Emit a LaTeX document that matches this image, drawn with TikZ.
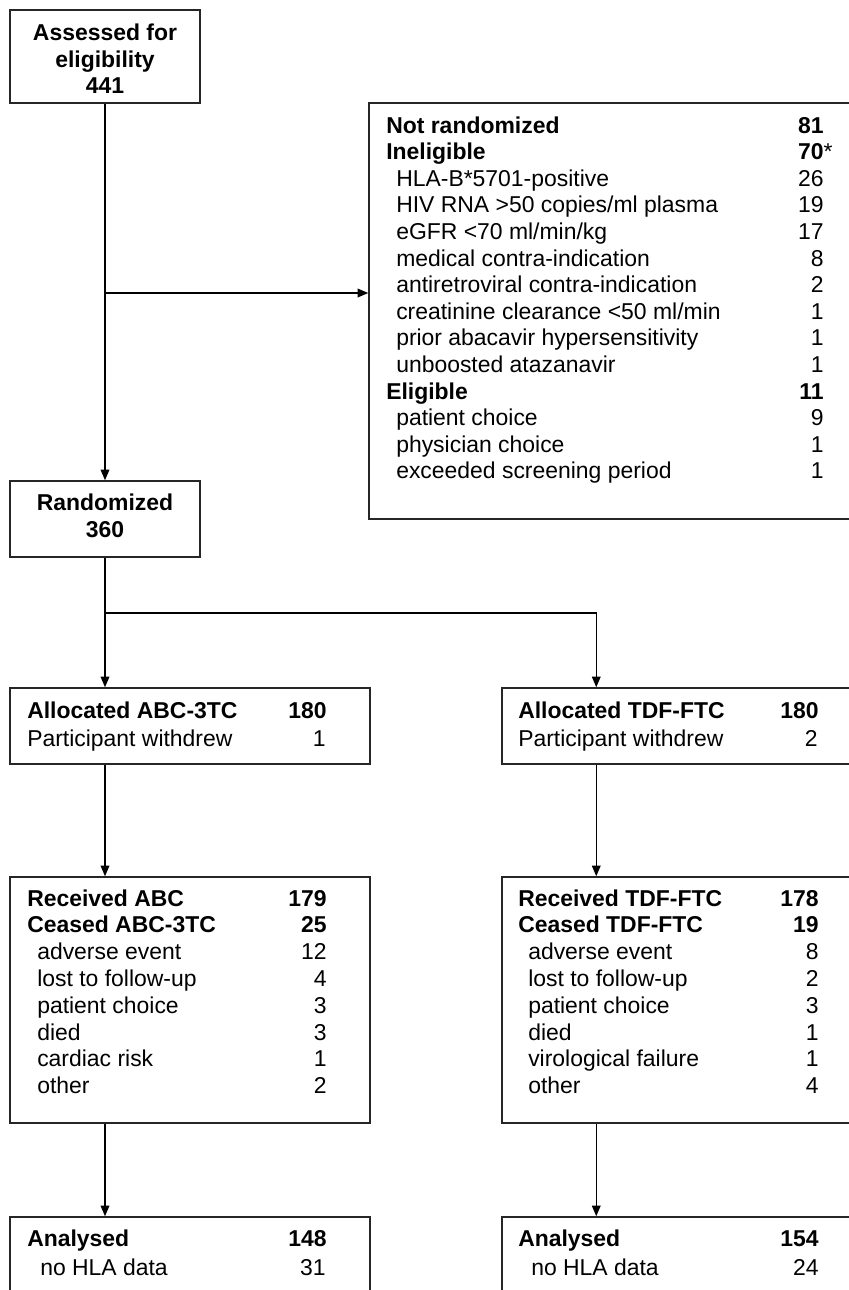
\documentclass[tikz,border=0pt]{standalone}
\usepackage{fontspec}
\setmainfont{Liberation Sans}
\usetikzlibrary{arrows.meta, fit, calc}
\newcommand{\flowfont}{\fontsize{17.2pt}{19.9pt}\selectfont}

\begin{document}
\begin{tikzpicture}[
        x=0.75pt, y=-0.75pt,
        every node/.style={font=\flowfont},
        box/.style={draw=black!85, line width=1.1pt, inner sep=0pt, fit={#1}},
        arr/.style={line width=1pt, -{Triangle[length=8pt, width=6.5pt]}},
        title/.style={align=center, inner sep=0pt, font=\flowfont\bfseries},
        lab/.style={anchor=base west, inner sep=0pt},
        num/.style={anchor=base east, inner sep=0pt},
        lab-head/.style={lab, font=\flowfont\bfseries},
        lab-item/.style={lab, xshift=7.5pt},
        lab-plain/.style={lab},
        num-head/.style={num, font=\flowfont\bfseries},
        num-item/.style={num},
        num-plain/.style={num}
    ]

    \useasboundingbox (0,0) rectangle (849,1290);
    \clip (0,0) rectangle (849,1290);

    % boxes
    \node[box={(10,10) (200,103)}] (assess) {};
    \node[box={(369,103) (870,519)}] (notrand) {};
    \node[box={(10,481) (200,557)}] (rand) {};
    \node[box={(10,688) (370,764)}] (allocA) {};
    \node[box={(502,688) (870,764)}] (allocB) {};
    \node[box={(10,877) (370,1123)}] (recA) {};
    \node[box={(502,877) (870,1123)}] (recB) {};
    \node[box={(10,1217) (370,1330)}] (anaA) {};
    \node[box={(502,1217) (870,1330)}] (anaB) {};

    \node[title] (assess-t) at (105,59) {Assessed for\\eligibility\\441};
    \node[title] (rand-t) at (105,516) {Randomized\\360};

    % connectors
    \coordinate (split1) at (105,293);
    \coordinate (split2) at (105,613);
    \coordinate (inB) at ($(allocB.north west)+(95,0)$);
    \draw[arr] (assess) -- (rand);
    \draw[arr] (split1) -- (split1 -| notrand.west);
    \draw[arr] (rand) -- (rand |- allocA.north);
    \draw[arr] (split2) -| (inB);
    \draw[arr] (allocA.south -| rand) -- (recA.north -| rand);
    \draw[arr] (allocB.south -| inB) -- (recB.north -| inB);
    \draw[arr] (recA.south -| rand) -- (anaA.north -| rand);
    \draw[arr] (recB.south -| inB) -- (anaB.north -| inB);

    % not randomized
    \foreach \lab/\num/\kind [count=\i from 0] in {
            {Not randomized}/81/head,
            {Ineligible}/{70\rlap{\normalfont*}}/head,
            {HLA-B*5701-positive}/26/item,
            {HIV RNA >50 copies/ml plasma}/19/item,
            {eGFR <70 ml/min/kg}/17/item,
            {medical contra-indication}/8/item,
            {antiretroviral contra-indication}/2/item,
            {creatinine clearance <50 ml/min}/1/item,
            {prior abacavir hypersensitivity}/1/item,
            {unboosted atazanavir}/1/item,
            {Eligible}/11/head,
            {patient choice}/9/item,
            {physician choice}/1/item,
            {exceeded screening period}/1/item}{
        \node[lab-\kind] (nr-l\i) at (386,133+26.6*\i) {\lab};
        \node[num-\kind] (nr-n\i) at (824,133+26.6*\i) {\num};
    }

    % allocation
    \node[lab-head] (allocA-l0) at (27,718) {Allocated ABC-3TC};
    \node[num-head] (allocA-n0) at (327,718) {180};
    \node[lab-plain] (allocA-l1) at (27,746) {Participant withdrew};
    \node[num-plain] (allocA-n1) at (326,746) {1};
    \node[lab-head] (allocB-l0) at (518,718) {Allocated TDF-FTC};
    \node[num-head] (allocB-n0) at (819,718) {180};
    \node[lab-plain] (allocB-l1) at (518,746) {Participant withdrew};
    \node[num-plain] (allocB-n1) at (818,746) {2};

    % follow-up
    \foreach \lab/\num/\kind [count=\i from 0] in {
            {Received ABC}/179/head,
            {Ceased ABC-3TC}/25/head,
            {adverse event}/12/item,
            {lost to follow-up}/4/item,
            {patient choice}/3/item,
            {died}/3/item,
            {cardiac risk}/1/item,
            {other}/2/item}{
        \node[lab-\kind] (recA-l\i) at (27,906+26.8*\i) {\lab};
        \node[num-\kind] (recA-n\i) at (327,906+26.8*\i) {\num};
    }
    \foreach \lab/\num/\kind [count=\i from 0] in {
            {Received TDF-FTC}/178/head,
            {Ceased TDF-FTC}/19/head,
            {adverse event}/8/item,
            {lost to follow-up}/2/item,
            {patient choice}/3/item,
            {died}/1/item,
            {virological failure}/1/item,
            {other}/4/item}{
        \node[lab-\kind] (recB-l\i) at (518,906+26.8*\i) {\lab};
        \node[num-\kind] (recB-n\i) at (819,906+26.8*\i) {\num};
    }

    % analysis
    \node[lab-head] (anaA-l0) at (27,1246) {Analysed};
    \node[num-head] (anaA-n0) at (327,1246) {148};
    \node[lab-item] (anaA-l1) at (30,1275) {no HLA data};
    \node[num-item] (anaA-n1) at (326,1275) {31};
    \node[lab-head] (anaB-l0) at (518,1246) {Analysed};
    \node[num-head] (anaB-n0) at (819,1246) {154};
    \node[lab-item] (anaB-l1) at (521,1275) {no HLA data};
    \node[num-item] (anaB-n1) at (819,1275) {24};

\end{tikzpicture}
\end{document}
